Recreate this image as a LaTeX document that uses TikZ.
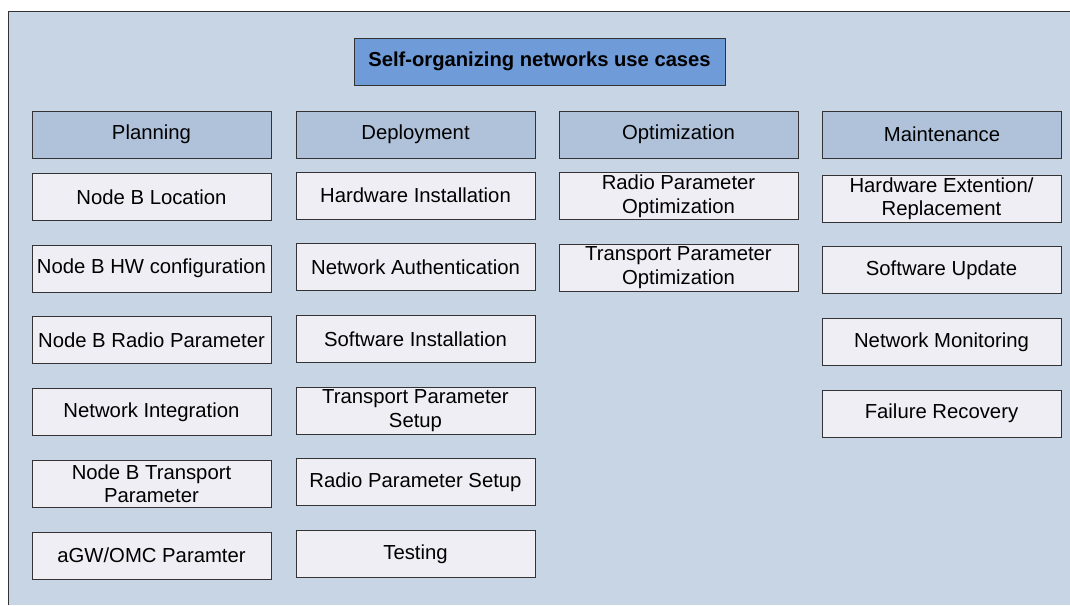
\documentclass[tikz,border=0pt]{standalone}
\usepackage{fontspec}
\setmainfont{Liberation Sans}
\usepackage{tikz}
\usetikzlibrary{positioning}

\definecolor{frameFill}{HTML}{C8D5E5}
\definecolor{titleFill}{HTML}{6F9BD8}
\definecolor{phaseFill}{HTML}{AFC2DA}
\definecolor{caseFill}{HTML}{EFEEF4}
\definecolor{lineGray}{HTML}{333333}

\begin{document}
\begin{tikzpicture}[x=1pt,y=-1pt,node distance=71.7pt,line width=0.9pt]
  \tikzstyle{box}=[draw=lineGray,rectangle,align=center,inner sep=1pt,
                   minimum width=239pt,minimum height=47pt,
                   font=\fontsize{20.3}{23.5}\selectfont]
  \tikzstyle{phase}=[box,fill=phaseFill]
  \tikzstyle{case}=[box,fill=caseFill]
  \useasboundingbox (0,0) rectangle (1070,605);
  % outer frame
  \fill[frameFill] (8,11) rectangle (1070,605);
  \draw[lineGray] (8,605) -- (8,11) -- (1070,11);
  \node[box,fill=titleFill,minimum width=371pt,font=\fontsize{20.2}{23}\selectfont\bfseries]
        (T) at (539.5,61.5) {Self-organizing networks use cases};
  % phases
  \node[phase] (P) at (151.5,134.5) {Planning};
  \node[phase] (D) at (415.5,134.5) {Deployment};
  \node[phase] (O) at (678.5,134.5) {Optimization};
  \node[phase] (M) at (942,134.5)   {Maintenance};
  % planning
  \node[case] (P1) at (151.5,197) {Node B Location};
  \node[case] (P2) [below of=P1] {Node B HW configuration};
  \node[case] (P3) [below of=P2] {Node B Radio Parameter};
  \node[case] (P4) [below of=P3] {Network Integration};
  \node[case] (P5) [below of=P4] {Node B Transport\\Parameter};
  \node[case] (P6) [below of=P5] {aGW/OMC Paramter};
  % deployment
  \node[case] (D1) at (415.5,195.5) {Hardware Installation};
  \node[case] (D2) [below of=D1] {Network Authentication};
  \node[case] (D3) [below of=D2] {Software Installation};
  \node[case] (D4) [below of=D3] {Transport Parameter\\Setup};
  \node[case] (D5) [below of=D4] {Radio Parameter Setup};
  \node[case] (D6) [below of=D5] {Testing};
  % optimization
  \node[case] (O1) at (678.5,196) {Radio Parameter\\Optimization};
  \node[case] (O2) [below of=O1] {Transport Parameter\\Optimization};
  % maintenance
  \node[case] (M1) at (941.5,198.5) {Hardware Extention/\\Replacement};
  \node[case] (M2) [below of=M1] {Software Update};
  \node[case] (M3) [below of=M2] {Network Monitoring};
  \node[case] (M4) [below of=M3] {Failure Recovery};
\end{tikzpicture}
\end{document}
